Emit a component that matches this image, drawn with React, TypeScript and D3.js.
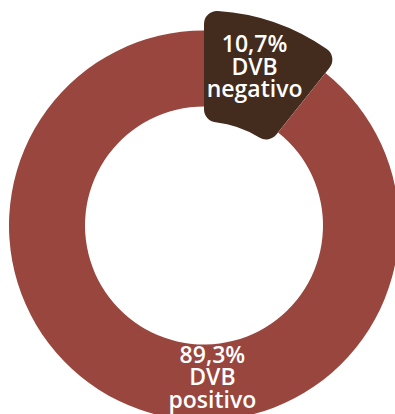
import React from "react";
import * as d3 from "d3";

const categories = ["DVB negativo", "DVB positivo"];
const values = [10.7, 89.3];
const percentLabels = ["10,7%", "89,3%"];
const labelLines = [["DVB", "negativo"], ["DVB", "positivo"]];
const colors = ["#432b1d", "#98463e"];

export default function App() {
  const width = 395;
  const height = 414;
  const cx = 204;
  const cy = 225.5;
  const pie = d3.pie<number>().sort(null).value((d) => d);
  const arcs = pie(values);
  const ringArc = d3.arc<d3.PieArcDatum<number>>().innerRadius(119).outerRadius(195);
  const popArc = d3
    .arc<d3.PieArcDatum<number>>()
    .innerRadius(104)
    .outerRadius(215)
    .cornerRadius(13);

  return (
    <svg
      width={width}
      height={height}
      style={{ position: "absolute", left: 0, top: 0 }}
    >
      <g transform={`translate(${cx},${cy})`}>
        {arcs.map((a, i) => (
          <path
            key={categories[i]}
            d={(i === 0 ? popArc(a) : ringArc(a)) || ""}
            fill={colors[i]}
          />
        ))}
        {arcs.map((a, i) => {
          let x: number, y: number;
          if (i === 0) {
            [x, y] = popArc.centroid(a);
            x -= 2;
          } else {
            const ang = (177 * Math.PI) / 180;
            x = 160 * Math.sin(ang);
            y = -160 * Math.cos(ang);
          }
          const lines = [percentLabels[i], ...labelLines[i]];
          const lh = 22.5;
          return (
            <text
              key={"t" + i}
              x={x}
              y={y}
              textAnchor="middle"
              fill="#ffffff"
              fontFamily="'Open Sans', sans-serif"
              fontWeight={600}
              fontSize={23}
            >
              {lines.map((l, j) => (
                <tspan key={j} x={x} y={y + (j - 1) * lh}>
                  {l}
                </tspan>
              ))}
            </text>
          );
        })}
      </g>
    </svg>
  );
}
